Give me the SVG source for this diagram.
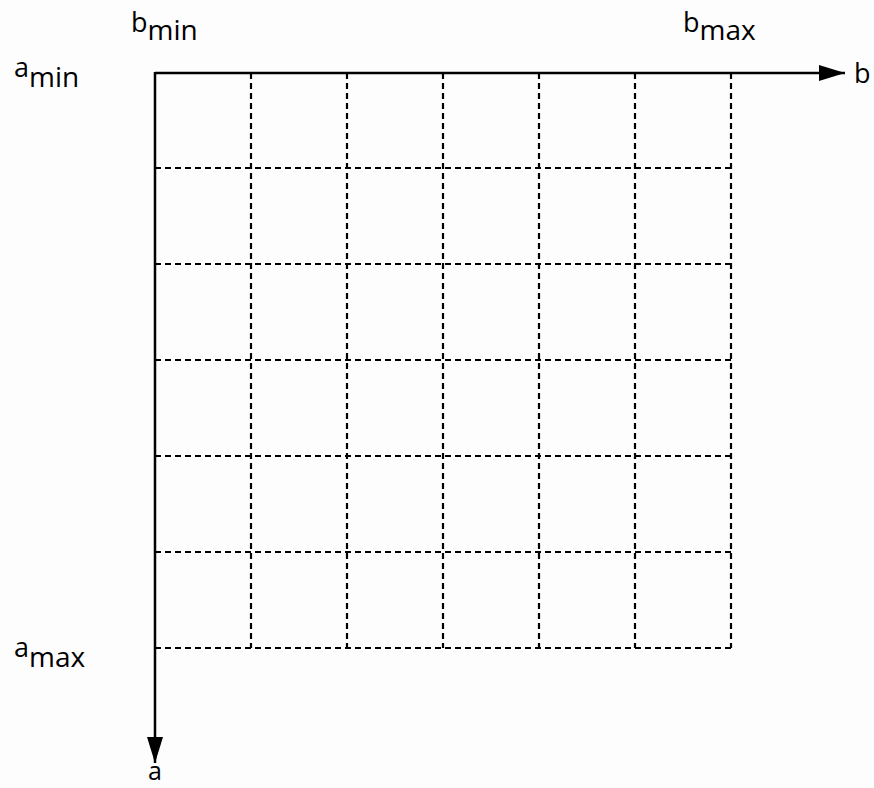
<svg xmlns="http://www.w3.org/2000/svg" width="874" height="788" viewBox="0 0 874 788">
<style>
.grid{stroke:#000;stroke-width:2.2;stroke-dasharray:6 4;fill:none}
.axis{stroke:#000;stroke-width:2.5;fill:none}
.lbl{font-family:"Open Sans","Noto Sans",sans-serif;fill:#000}
.main{font-size:27px}
.sub{font-size:28px}
</style>
<defs>
<marker id="arr" markerWidth="26" markerHeight="16" refX="26" refY="8" orient="auto" markerUnits="userSpaceOnUse">
<path d="M0,0 L26,8 L0,16 Z" fill="#000"/>
</marker>
</defs>
<rect width="874" height="788" fill="#fdfdfd"/>
<g id="grid">
<line class="grid" x1="251" y1="73" x2="251" y2="648"/>
<line class="grid" x1="347" y1="73" x2="347" y2="648"/>
<line class="grid" x1="443" y1="73" x2="443" y2="648"/>
<line class="grid" x1="539" y1="73" x2="539" y2="648"/>
<line class="grid" x1="635" y1="73" x2="635" y2="648"/>
<line class="grid" x1="731" y1="73" x2="731" y2="648"/>
<line class="grid" x1="155" y1="168" x2="731" y2="168"/>
<line class="grid" x1="155" y1="264" x2="731" y2="264"/>
<line class="grid" x1="155" y1="360" x2="731" y2="360"/>
<line class="grid" x1="155" y1="456" x2="731" y2="456"/>
<line class="grid" x1="155" y1="552" x2="731" y2="552"/>
<line class="grid" x1="155" y1="648" x2="731" y2="648"/>
</g>
<g id="connectors">
<line class="axis" x1="155" y1="73" x2="845" y2="73" marker-end="url(#arr)"/>
<line class="axis" x1="155" y1="72" x2="155" y2="763" marker-end="url(#arr)"/>
</g>
<g id="labels">
<text class="lbl" x="131" y="32"><tspan class="main">b</tspan><tspan class="sub" dy="8">min</tspan></text>
<text class="lbl" x="683" y="32"><tspan class="main">b</tspan><tspan class="sub" dy="8">max</tspan></text>
<text class="lbl" x="14" y="77"><tspan class="main">a</tspan><tspan class="sub" dy="10">min</tspan></text>
<text class="lbl" x="14" y="657"><tspan class="main">a</tspan><tspan class="sub" dy="10">max</tspan></text>
<text class="lbl main" x="854" y="83">b</text>
<text class="lbl" x="148" y="780" font-size="25">a</text>
</g>
</svg>
